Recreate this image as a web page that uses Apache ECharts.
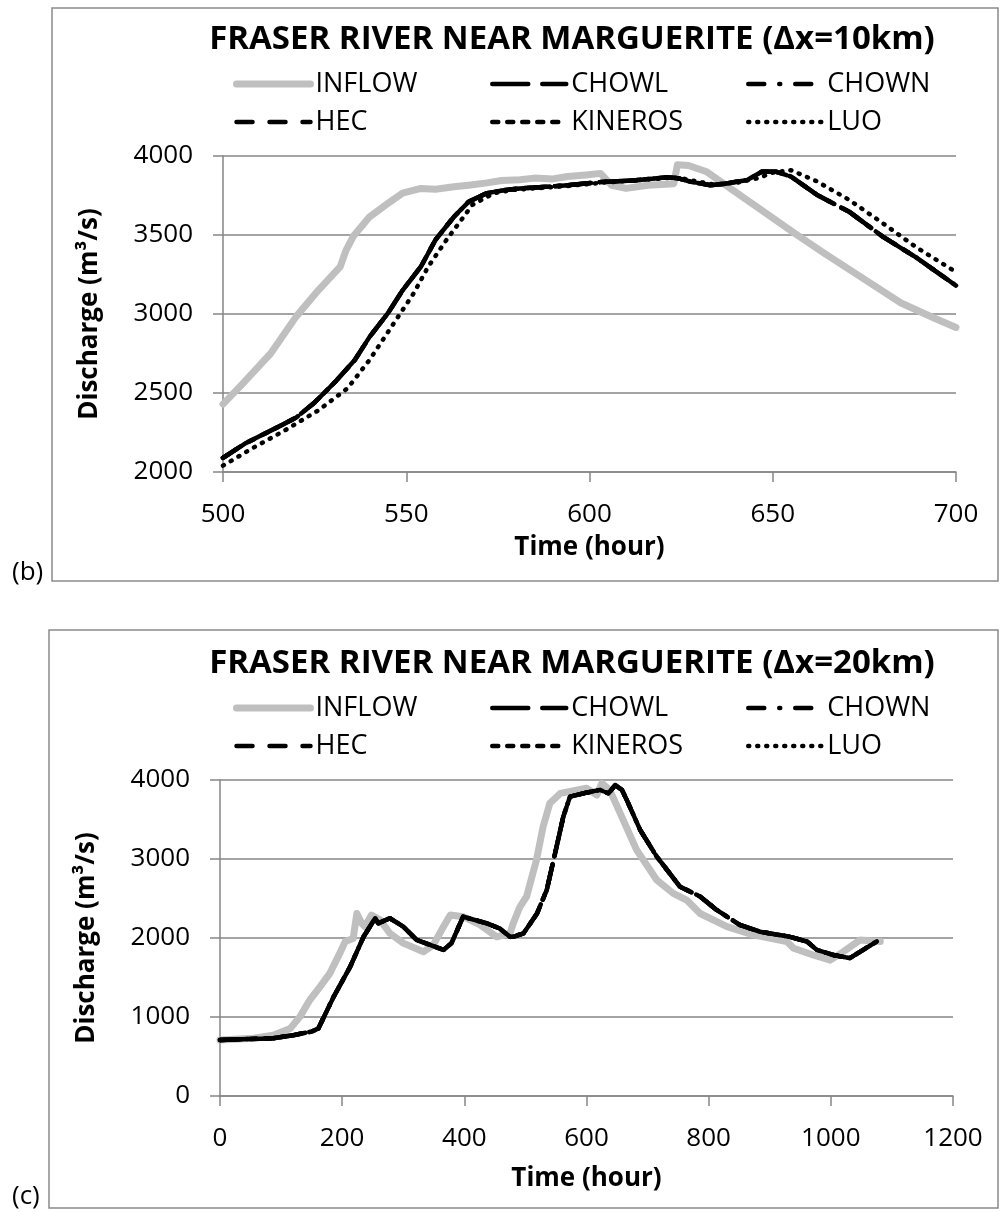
<!DOCTYPE html>
<html>
<head>
<meta charset="utf-8">
<script src="https://cdn.jsdelivr.net/npm/echarts@6/dist/echarts.min.js"></script>
<style>
  html, body { margin: 0; padding: 0; background: #ffffff; }
  #chart { width: 1002px; height: 1212px; }
</style>
</head>
<body>
<div id="chart"></div>
<script>
// ---------- Panel (b): Δx = 10 km, hours 500–700 ----------
const inflow10Hours = [500, 505, 513, 520, 526, 532, 533.5, 535.5, 540, 545, 549, 554, 558, 563, 567, 572, 576, 581, 585, 590, 594, 599, 603, 606, 610, 616, 623, 624, 627, 632, 639, 648, 656, 664, 674, 685, 694, 700];
const inflow10Flow  = [2430, 2550, 2750, 2985, 3150, 3300, 3400, 3490, 3615, 3700, 3765, 3795, 3790, 3805, 3815, 3830, 3845, 3850, 3860, 3855, 3870, 3880, 3890, 3815, 3795, 3815, 3825, 3945, 3940, 3900, 3785, 3640, 3510, 3385, 3235, 3070, 2975, 2915];

// CHOWL, CHOWN, HEC and KINEROS coincide at this scale
const routed10Hours = [500, 506, 515, 520, 525, 531, 536, 540, 545, 549, 554, 558, 563, 567, 572, 577, 581, 585, 594, 603, 612, 621, 624, 628, 633, 637, 643, 647, 651, 655, 662, 671, 680, 689, 700];
const routed10Flow  = [2090, 2180, 2285, 2345, 2440, 2580, 2710, 2855, 3005, 3150, 3300, 3470, 3615, 3710, 3765, 3785, 3795, 3800, 3815, 3835, 3845, 3865, 3860, 3835, 3815, 3825, 3848, 3900, 3900, 3870, 3755, 3645, 3490, 3360, 3180];

const luo10Hours = [500, 508, 517, 526, 534, 540, 546, 552, 556, 561, 565, 568, 574, 579, 585, 594, 603, 612, 621, 625, 629, 634, 640, 646, 650, 655, 662, 671, 680, 689, 700];
const luo10Flow  = [2040, 2150, 2265, 2390, 2530, 2710, 2920, 3130, 3300, 3470, 3595, 3690, 3765, 3785, 3795, 3810, 3830, 3845, 3860, 3860, 3840, 3820, 3830, 3860, 3895, 3910, 3840, 3720, 3575, 3425, 3265];

// ---------- Panel (c): Δx = 20 km, hours 0–1080 ----------
const inflow20Hours = [0, 55, 87, 115, 131, 147, 164, 180, 196, 205, 218, 224, 232, 237, 248, 262, 278, 300, 333, 349, 366, 377, 398, 426, 453, 475, 480, 491, 502, 518, 529, 540, 557, 600, 617, 625, 638, 660, 682, 715, 742, 764, 786, 830, 873, 928, 939, 971, 999, 1020, 1048, 1081];
const inflow20Flow  = [710, 730, 770, 855, 1005, 1215, 1385, 1555, 1805, 1955, 1995, 2310, 2185, 2145, 2290, 2230, 2060, 1935, 1825, 1910, 2145, 2290, 2270, 2165, 2015, 2060, 2185, 2395, 2525, 2985, 3410, 3705, 3830, 3895, 3810, 3958, 3875, 3495, 3115, 2735, 2565, 2480, 2310, 2145, 2040, 1955, 1870, 1785, 1720, 1825, 1975, 1955];

// all five routing schemes overlap at this scale
const routed20Hours = [0, 87, 120, 150, 161, 186, 213, 235, 254, 259, 278, 300, 322, 366, 379, 398, 437, 458, 475, 480, 497, 519, 535, 551, 562, 573, 600, 622, 636, 647, 658, 666, 688, 715, 753, 786, 813, 851, 884, 933, 961, 977, 1004, 1031, 1053, 1075];
const routed20Flow  = [710, 730, 770, 815, 855, 1255, 1635, 2015, 2250, 2185, 2250, 2145, 1975, 1850, 1935, 2270, 2185, 2120, 2015, 2015, 2060, 2310, 2610, 3155, 3535, 3790, 3840, 3875, 3830, 3935, 3875, 3745, 3365, 3030, 2650, 2525, 2355, 2165, 2080, 2015, 1955, 1850, 1785, 1745, 1850, 1955];

// ---------- axis ticks ----------
const xTicks10 = { min: 500, max: 700, step: 50 };
const yTicks10 = { min: 2000, max: 4000, step: 500 };
const xTicks20 = { min: 0, max: 1200, step: 200 };
const yTicks20 = { min: 0, max: 4000, step: 1000 };

const methodNames = ['INFLOW', 'CHOWL', 'CHOWN', 'HEC', 'KINEROS', 'LUO'];
const panelTitles = ['FRASER RIVER NEAR MARGUERITE (\u0394x=10km)', 'FRASER RIVER NEAR MARGUERITE (\u0394x=20km)'];
const panelTags = ['(b)', '(c)'];

const FONT = '"Open Sans", "Noto Sans", sans-serif';
const GRID_GRAY = '#868686';

const lineStyles = {
  INFLOW:  { color: '#BFBFBF', width: 7, type: 'solid', cap: 'round', join: 'round' },
  CHOWL:   { color: '#000000', width: 4.5, type: [36, 14], cap: 'round', join: 'round' },
  CHOWN:   { color: '#000000', width: 4.5, type: [16, 15, 1, 15], cap: 'round', join: 'round' },
  HEC:     { color: '#000000', width: 4.5, type: [16, 17], cap: 'round', join: 'round' },
  KINEROS: { color: '#000000', width: 4.5, type: [6, 9], cap: 'round', join: 'round' },
  LUO:     { color: '#000000', width: 4.5, type: [1, 8], cap: 'round', join: 'round' }
};

function pairs(hours, flow) {
  return hours.map((h, i) => [h, flow[i]]);
}

function lineSeries(name, hours, flow, panel) {
  const st = lineStyles[name];
  return {
    type: 'line',
    name: name,
    xAxisIndex: panel,
    yAxisIndex: panel,
    data: pairs(hours, flow),
    symbol: 'none',
    showSymbol: false,
    smooth: false,
    silent: true,
    itemStyle: { color: st.color },
    lineStyle: Object.assign({}, st),
    z: name === 'INFLOW' ? 2 : 3
  };
}

const plainNumber = v => String(v);

function xAxisFor(panel, ticks, nameGap) {
  return {
    type: 'value', gridIndex: panel,
    min: ticks.min, max: ticks.max, interval: ticks.step,
    name: 'Time (hour)', nameLocation: 'middle', nameGap: nameGap,
    nameTextStyle: { fontFamily: FONT, fontSize: 26, fontWeight: 'bold', color: '#000' },
    axisLine: { show: true, lineStyle: { color: GRID_GRAY, width: 1.5 } },
    axisTick: { show: true, inside: false, length: 10, lineStyle: { color: GRID_GRAY, width: 1.5 } },
    axisLabel: { fontFamily: FONT, fontSize: 26, color: '#000', margin: 30, formatter: plainNumber },
    splitLine: { show: false }
  };
}

function yAxisFor(panel, ticks) {
  return {
    type: 'value', gridIndex: panel,
    min: ticks.min, max: ticks.max, interval: ticks.step,
    name: 'Discharge (m\u00b3/s)', nameLocation: 'middle', nameGap: 120, nameRotate: 90,
    nameTextStyle: { fontFamily: FONT, fontSize: 26, fontWeight: 'bold', color: '#000' },
    axisLine: { show: true, lineStyle: { color: GRID_GRAY, width: 1.5 } },
    axisTick: { show: true, inside: false, length: 10, lineStyle: { color: GRID_GRAY, width: 1.5 } },
    axisLabel: { fontFamily: FONT, fontSize: 26, color: '#000', margin: 30, formatter: plainNumber },
    splitLine: { show: true, lineStyle: { color: GRID_GRAY, width: 1.5 } }
  };
}

// legend laid out as three columns of two entries; icons show only the stroke
function legendColumns(offsetY) {
  const cols = [
    { names: ['INFLOW', 'HEC'], left: 233 },
    { names: ['CHOWL', 'KINEROS'], left: 490 },
    { names: ['CHOWN', 'LUO'], left: 746 }
  ];
  return cols.map(c => ({
    data: c.names.map(n => ({
      name: n,
      itemStyle: { opacity: 0 },
      lineStyle: {
        color: lineStyles[n].color,
        width: lineStyles[n].width,
        type: lineStyles[n].type,
        cap: 'round',
        opacity: 1
      }
    })),
    orient: 'vertical',
    left: c.left,
    top: 69 + offsetY,
    padding: 0,
    itemWidth: 74,
    itemHeight: 16,
    itemGap: 8,
    selectedMode: false,
    itemStyle: { opacity: 0 },
    textStyle: { fontFamily: FONT, fontSize: 27, color: '#000', lineHeight: 30 }
  }));
}

const PANEL_SHIFT = 624;

const series = [];
// panel (b)
series.push(lineSeries('INFLOW', inflow10Hours, inflow10Flow, 0));
['CHOWL', 'CHOWN', 'HEC', 'KINEROS'].forEach(n => series.push(lineSeries(n, routed10Hours, routed10Flow, 0)));
series.push(lineSeries('LUO', luo10Hours, luo10Flow, 0));
// panel (c)
series.push(lineSeries('INFLOW', inflow20Hours, inflow20Flow, 1));
['CHOWL', 'CHOWN', 'HEC', 'KINEROS', 'LUO'].forEach(n => series.push(lineSeries(n, routed20Hours, routed20Flow, 1)));

const graphics = [];
[0, 1].forEach(p => {
  const dy = p * PANEL_SHIFT;
  graphics.push({
    type: 'rect', silent: true, z: 0,
    shape: p === 0 ? { x: 52, y: 8, width: 946, height: 573 } : { x: 49, y: 630, width: 949, height: 578 },
    style: { fill: null, stroke: '#8a8a8a', lineWidth: 1.5 }
  });
  graphics.push({
    type: 'text', silent: true, x: 572, y: 40 + dy,
    style: { text: panelTitles[p], font: 'bold 33px ' + FONT, fill: '#000', textAlign: 'center', textVerticalAlign: 'middle' }
  });
  graphics.push({
    type: 'text', silent: true, x: 12, y: 573 + dy,
    style: { text: panelTags[p], font: '26px ' + FONT, fill: '#000', textAlign: 'left', textVerticalAlign: 'middle' }
  });
});

const chart = echarts.init(document.getElementById('chart'), null, { renderer: 'canvas' });
chart.setOption({
  animation: false,
  backgroundColor: '#ffffff',
  grid: [
    { left: 223, top: 156, width: 733, height: 316 },
    { left: 220, top: 780, width: 733, height: 316 }
  ],
  xAxis: [xAxisFor(0, xTicks10, 63), xAxisFor(1, xTicks20, 70)],
  yAxis: [yAxisFor(0, yTicks10), yAxisFor(1, yTicks20)],
  legend: legendColumns(0).concat(legendColumns(PANEL_SHIFT)),
  graphic: graphics,
  series: series
});
</script>
</body>
</html>
